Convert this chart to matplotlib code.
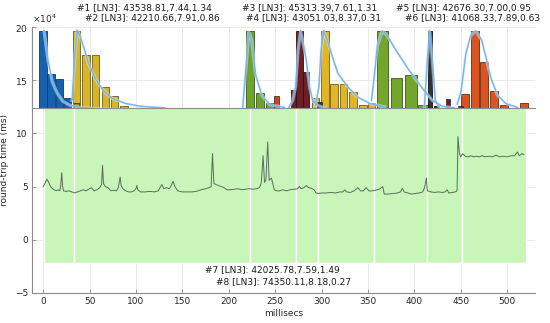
import matplotlib
matplotlib.use("Agg")
import matplotlib.pyplot as plt
from matplotlib.patches import Rectangle
from matplotlib.ticker import ScalarFormatter

# ---------------- data ----------------
rtt_ms = [0, 2, 4, 6, 8, 10, 12, 14, 16, 18, 19, 20, 21, 22, 25, 28, 31, 34, 37, 40,
          43, 46, 49, 52, 55, 58, 61, 63, 64, 65, 67, 70, 73, 76, 79, 81, 83, 84, 86, 89,
          92, 95, 98, 100, 101, 102, 105, 110, 115, 120, 124, 126, 128, 130, 133, 136, 138, 140, 142, 145,
          150, 155, 160, 165, 170, 175, 179, 181, 182.5, 184, 186, 189, 192, 195, 198, 202, 206, 210, 214, 218,
          222, 226, 230, 233, 235, 237, 238.5, 240, 242, 243.5, 246, 247.5, 249, 252, 255, 258, 262, 266, 270, 274,
          276, 278, 281, 283.5, 286, 289, 292, 294, 297, 300, 305, 310, 315, 320, 323, 325, 327, 331, 335, 339,
          342, 345, 348, 351, 355, 360, 363, 366, 367.5, 372, 377, 382, 385, 387, 389, 393, 397, 401, 405, 409,
          411, 413, 414, 418, 422, 426, 430, 433, 435.5, 437, 441, 444, 446, 447, 448.5, 450, 452, 455, 458, 461,
          464, 467, 470, 473, 476, 480, 484, 488, 492, 496, 500, 504, 508, 511, 513, 516, 518]
rtt_val = [5.0, 5.3, 5.7, 5.4, 5.0, 4.8, 4.7, 4.6, 4.7, 4.6, 5.2, 6.3, 5.0, 4.6, 4.55, 4.6, 4.5, 4.4, 4.5, 4.6,
           4.7, 4.6, 4.75, 4.9, 4.6, 4.7, 4.9, 5.2, 7.0, 5.3, 5.0, 4.9, 4.6, 4.65, 4.6, 4.9, 5.9, 5.1, 4.8, 4.6,
           4.5, 4.5, 4.6, 4.8, 5.1, 4.7, 4.5, 4.5, 4.55, 4.5, 4.6, 4.9, 5.2, 4.8, 4.9, 4.8, 5.1, 5.5, 5.0, 4.6,
           4.5, 4.5, 4.5, 4.55, 4.7, 4.8, 4.9, 5.0, 8.1, 5.3, 5.2, 5.1, 5.0, 4.9, 4.7, 4.7, 4.75, 4.8, 4.7, 4.75,
           4.8, 4.75, 4.8, 4.9, 5.3, 7.9, 5.4, 5.6, 9.2, 5.6, 5.8, 5.3, 4.7, 4.6, 4.6, 4.7, 4.6, 4.7, 4.75, 4.8,
           5.0, 4.8, 4.9, 5.1, 4.9, 4.85, 4.7, 4.4, 4.35, 4.4, 4.4, 4.45, 4.4, 4.5, 4.5, 4.7, 4.5, 4.45, 4.6, 4.9,
           4.6, 4.6, 4.9, 4.6, 4.6, 4.7, 4.8, 5.0, 4.3, 4.3, 4.35, 4.4, 4.5, 4.85, 4.5, 4.4, 4.3, 4.35, 4.4, 4.5,
           4.9, 5.8, 4.6, 4.5, 4.45, 4.5, 4.45, 4.5, 4.7, 4.4, 4.45, 4.5, 4.6, 9.7, 8.1, 7.8, 8.1, 7.85, 7.8, 7.9,
           7.8, 7.85, 7.8, 7.9, 7.8, 7.85, 7.8, 7.95, 7.8, 7.85, 7.8, 7.9, 7.9, 8.25, 7.9, 8.1, 8.0]

seg_edges = [1, 33, 222.6, 272, 296, 356, 414, 451, 520]
seg_low = -2.2

# histogram bins (bin centres, ms) and counts for each segment
hist_bins = [
    [0, 8.7, 17.4, 26.1],
    [36, 46.4, 56.3, 67.2, 77, 87.3],
    [222.6, 233.7, 244],
    [270.3, 276.3, 283.5],
    [293.2, 303.6, 313.4, 323.5, 333.7, 344.5, 354],
    [365.8, 381.2, 396.4, 409.7],
    [416.5, 423],
    [454.1, 465, 474.8, 485.6, 496.8, 518.3],
]
hist_counts = [
    [196500, 155700, 150900, 133000],
    [196500, 173600, 173600, 143700, 135200, 125500],
    [196500, 138000, 128300],
    [140600, 196500, 157300],
    [133700, 196500, 146200, 146200, 139000, 126400, 128600],
    [196500, 152500, 154700, 126400],
    [196500, 125500],
    [137500, 196500, 166700, 139600, 126400, 128600],
]
extra_bins = [36, 251.5, 297.7, 436.4, 450]
extra_counts = [128300, 135000, 129500, 132700, 125500]

# fitted curves
fit_x = [
    [1, 5.4, 9.7, 15, 21.5, 29, 40, 61, 94],
    [31.2, 33.9, 36.6, 39.8, 44.1, 48.4, 55.9, 64.5, 74.2, 88.2, 104.3, 131],
    [215, 218.3, 221.5, 224.7, 229, 235.5, 244, 260],
    [264.5, 268.8, 272, 274.7, 277.4, 280.6, 283.5, 287.1, 290.3, 295.7, 303],
    [293.5, 297.1, 299.5, 302.2, 305.4, 310.4, 317.5, 328.3, 339, 351.6, 367.7],
    [353.8, 357, 360.2, 365.6, 371, 380.3, 394.6, 408.6, 419.4, 430, 443],
    [410.8, 414, 416.5, 419.4, 422.6, 426.9],
    [446.2, 450.2, 455.6, 461, 466.3, 472.4, 477.1, 482.5, 489.6, 498.6, 511.1],
]
fit_y = [
    [196500, 168000, 149000, 138000, 130000, 126400, 124500, 123000, 122000],
    [131000, 169000, 197000, 191500, 180000, 167000, 152000, 140600, 133000, 128300, 125500, 124000],
    [124500, 159000, 195000, 188000, 155000, 136000, 127000, 124500],
    [124000, 131000, 143700, 178000, 196500, 183000, 169000, 143700, 131000, 126400, 124000],
    [126400, 143700, 178000, 196500, 189600, 175500, 156600, 143700, 134000, 128300, 125000],
    [131000, 154700, 183000, 196500, 191500, 178000, 159000, 142500, 131000, 125500, 124000],
    [124500, 169000, 196500, 169000, 131000, 124500],
    [127400, 139000, 175500, 192500, 196500, 187700, 172000, 151900, 135800, 128000, 124500],
]

seg_colors = ['#1561ad', '#d7b52a', '#6ea32b', '#6b1f26', '#e2b526', '#74a62e', '#333333', '#d9541e']
seg_edge = ['#0c3a6e', '#6f5c12', '#3b5a16', '#3a0c10', '#6f5c12', '#3b5a16', '#111111', '#6e2a0e']
seg_width = [8, 8.3, 8.6, 6.8, 8, 12, 4.5, 8.5]
extra_colors = ['#8a8a20', '#d04020', '#333333', '#6b1f26', '#2a5a3a']

notes = ["#1 [LN3]: 43538.81,7.44,1.34", "#2 [LN3]: 42210.66,7.91,0.86",
         "#3 [LN3]: 45313.39,7.61,1.31", "#4 [LN3]: 43051.03,8.37,0.31",
         "#5 [LN3]: 42676.30,7.00,0.95", "#6 [LN3]: 41068.33,7.89,0.63",
         "#7 [LN3]: 42025.78,7.59,1.49", "#8 [LN3]: 74350.11,8.18,0.27"]
note_pos = [(144.5, 8), (152, 19), (310, 8), (313, 19), (463, 8), (473, 19), (272, 270), (283, 282)]

xticks = [0, 50, 100, 150, 200, 250, 300, 350, 400, 450, 500]
yticks = [-5, 0, 5, 10]
top_yticks = [150000, 200000]

# ---------------- figure ----------------
W, H = 550, 323
fig = plt.figure(figsize=(W / 100, H / 100), dpi=100)
FS = 6.5
tick_col = '#262626'
spine_col = '#8c8c8c'
grid_col = '#e6e6e6'

L, R = 32, 535
ax = fig.add_axes([L / W, (H - 293) / H, (R - L) / W, (293 - 27) / H])
ax.set_xlim(-12, 530)
ax.set_ylim(-5, 20)
ax.set_axisbelow(True)
ax.grid(True, color=grid_col, lw=0.6)
for i in range(len(seg_edges) - 1):
    ax.add_patch(Rectangle((seg_edges[i], seg_low), seg_edges[i + 1] - seg_edges[i], 30,
                           facecolor='#c8f6b8', edgecolor='white', lw=1.0, zorder=1.5))
ax.plot(rtt_ms, rtt_val, color='#5b6b5e', lw=0.7, zorder=3)
ax.set_xticks(xticks)
ax.set_yticks(yticks)
ax.tick_params(direction='in', length=3, width=0.6, colors=spine_col, labelcolor=tick_col,
               labelsize=FS, pad=3)
for s in ['top', 'right']:
    ax.spines[s].set_visible(False)
for s in ['left', 'bottom']:
    ax.spines[s].set_color(spine_col)
    ax.spines[s].set_linewidth(0.8)
ax.set_xlabel('millisecs', fontsize=FS, color=tick_col, labelpad=2)
ax.set_ylabel('round-trip time (ms)', fontsize=FS, color=tick_col, labelpad=4)

# top histogram panel
axt = fig.add_axes([L / W, (H - 108) / H, (R - L) / W, (108 - 27) / H])
axt.set_facecolor('white')
axt.set_xlim(-12, 530)
axt.set_ylim(123900, 200000)
axt.set_axisbelow(True)
axt.grid(True, color=grid_col, lw=0.6)
for k in range(len(hist_bins)):
    axt.bar(hist_bins[k], hist_counts[k], width=seg_width[k], color=seg_colors[k],
            edgecolor=seg_edge[k], lw=0.6, zorder=2)
axt.bar(extra_bins, extra_counts, width=5, color=extra_colors, edgecolor='#222222', lw=0.5, zorder=2.2)
for k in range(len(fit_x)):
    axt.plot(fit_x[k], fit_y[k], color='#d8f4ff', lw=2.4, alpha=0.5, zorder=3)
    axt.plot(fit_x[k], fit_y[k], color='#80b3e6', lw=1.1, zorder=3.1)
axt.set_xticks(xticks)
axt.set_xticklabels([])
axt.set_yticks(top_yticks)
fmt = ScalarFormatter(useMathText=True)
fmt.set_powerlimits((4, 4))
axt.yaxis.set_major_formatter(fmt)
axt.yaxis.get_offset_text().set_fontsize(FS)
axt.yaxis.get_offset_text().set_color('#6a6a6a')
axt.tick_params(axis='x', length=0)
axt.tick_params(axis='y', direction='in', length=3, width=0.6, colors=spine_col,
                labelcolor=tick_col, labelsize=FS, pad=3)
for s in ['top', 'right']:
    axt.spines[s].set_visible(False)
for s in ['left', 'bottom']:
    axt.spines[s].set_color(spine_col)
    axt.spines[s].set_linewidth(0.8)

for txt, (px, py) in zip(notes, note_pos):
    fig.text(px / W, 1 - py / H, txt, fontsize=FS, ha='center', va='center', color='#1a1a1a')

fig.savefig('out.png', dpi=100)
